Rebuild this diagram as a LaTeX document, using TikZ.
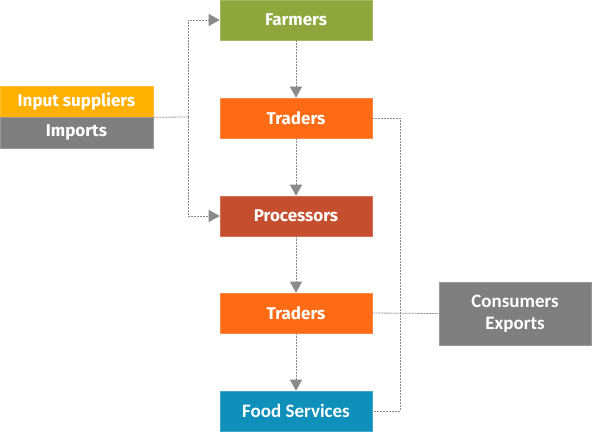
\documentclass[tikz,border=0pt]{standalone}
\usepackage{fontspec}
\setmainfont{Fira Sans}
\newfontfamily\carlitofont{Carlito}
\usetikzlibrary{arrows.meta}
\definecolor{cgreen}{HTML}{8DA73D}
\definecolor{corange}{HTML}{FF6A14}
\definecolor{cred}{HTML}{C44E2E}
\definecolor{cblue}{HTML}{0F90BA}
\definecolor{cyellow}{HTML}{FFB000}
\definecolor{cgray}{HTML}{7F7F7F}
\definecolor{lgray}{HTML}{8A8A8A}
\tikzset{
  x=1pt,y=-1pt,
  box/.style={fill=#1, draw=#1!80!white, line width=0.6pt, text=white, minimum width=152pt, minimum height=40pt, inner sep=0pt, font=\fontsize{17}{19}\selectfont\bfseries},
  conn/.style={draw=lgray, dash pattern=on 2pt off 1pt, line width=0.8pt},
  arr/.style={conn, -{Triangle[length=11pt,width=12pt,fill=lgray]}},
}
\begin{document}
\begin{tikzpicture}
\useasboundingbox (0,0) rectangle (593,437);
\node[box=cgreen] (farm) at (296,20) {Farmers};
\node[box=corange] (tr1) at (296,118) {Traders};
\node[box=cred] (proc) at (296,216) {Processors};
\node[box=corange] (tr2) at (296,313) {Traders};
\node[box=cblue, font=\carlitofont\fontsize{19}{21}\selectfont\bfseries] (food) at (296,411) {Food Services};
\node[box=cyellow, minimum width=153pt, minimum height=31pt] (inp) at (76.5,101.5) {Input suppliers};
\node[box=cgray, minimum width=153pt, minimum height=31pt] (imp) at (76.5,132.5) {Imports};
\node[box=cgray, minimum width=152pt, minimum height=63pt, align=center, font=\carlitofont\fontsize{19}{22}\selectfont\bfseries] (cons) at (515,313.5) {Consumers\\Exports};
\coordinate (lj) at (188,117);
\coordinate (rj) at (400,118);
\draw[conn] (inp.south east) -- (lj);
\draw[arr] (lj) |- (farm.west);
\draw[arr] (lj) |- (proc.west);
\draw[arr] (farm) -- (tr1);
\draw[arr] (tr1) -- (proc);
\draw[arr] (proc) -- (tr2);
\draw[arr] (tr2) -- (food);
\draw[conn] (tr1.east) -- (rj) |- (food.east);
\draw[conn] (tr2.east) -- (cons.west);
\end{tikzpicture}
\end{document}
